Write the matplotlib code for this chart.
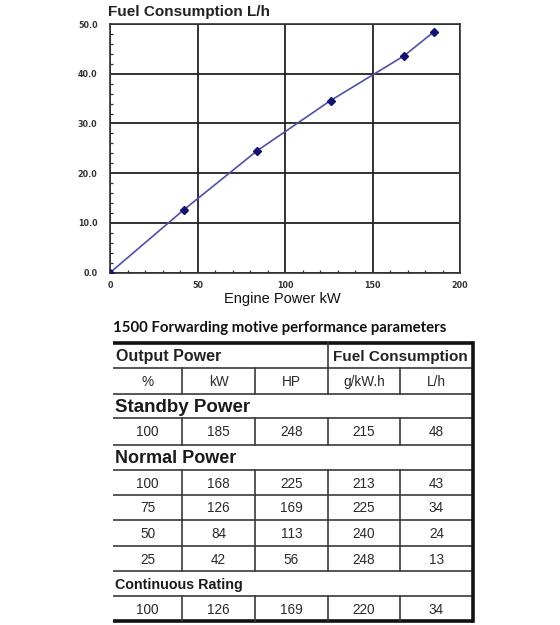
import matplotlib.pyplot as plt
from matplotlib.ticker import MultipleLocator, FormatStrFormatter

# fuel curve
power_kw = [0, 42, 84, 126, 168, 185]
fuel_lh = [0, 12.6, 24.5, 34.6, 43.6, 48.4]

# table contents
table_title = "1500 Forwarding motive performance parameters"
group_labels = ["Output Power", "Fuel Consumption"]
col_labels = ["%", "kW", "HP", "g/kW.h", "L/h"]
standby_rows = [[100, 185, 248, 215, 48]]
normal_rows = [[100, 168, 225, 213, 43],
               [75, 126, 169, 225, 34],
               [50, 84, 113, 240, 24],
               [25, 42, 56, 248, 13]]
continuous_rows = [[100, 126, 169, 220, 34]]

W, H = 560, 625
fig = plt.figure(figsize=(W / 100, H / 100), dpi=100)
fig.patch.set_facecolor("white")

# ---- chart ----
ax = fig.add_axes([110 / W, 1 - 272.7 / H, 350 / W, 248.7 / H])
ax.plot(power_kw, fuel_lh, color="#5050a8", lw=1.2, zorder=3,
        marker="D", markersize=4.2, markerfacecolor="#121270", markeredgecolor="#121270")
ax.set_xlim(0, 200)
ax.set_ylim(0, 50)
ax.xaxis.set_major_locator(MultipleLocator(50))
ax.xaxis.set_minor_locator(MultipleLocator(10))
ax.yaxis.set_major_locator(MultipleLocator(10))
ax.yaxis.set_minor_locator(MultipleLocator(2))
ax.yaxis.set_major_formatter(FormatStrFormatter("%.1f"))
ax.grid(True, which="major", color="#222222", lw=1.3)
ax.tick_params(which="both", direction="in", color="#333333")
ax.tick_params(which="major", length=0, labelsize=5.8, labelcolor="#333333")
ax.tick_params(axis="y", which="major", pad=9)
ax.tick_params(axis="x", which="major", pad=6)
ax.tick_params(which="minor", length=2.5, width=0.9)
for lab in ax.get_xticklabels() + ax.get_yticklabels():
    lab.set_fontweight("bold")
for s in ax.spines.values():
    s.set_color("#333333")
    s.set_linewidth(1.2)
fig.text(108 / W, 1 - 12 / H, "Fuel Consumption L/h", fontsize=11, fontweight="bold",
         family="Liberation Sans", color="#222222", va="center", ha="left")
fig.text(282 / W, 1 - 299 / H, "Engine Power kW", fontsize=10.5,
         family="Liberation Sans", color="#111111", va="center", ha="center")

# ---- table (drawn in pixel coordinates) ----
tx = fig.add_axes([0, 0, 1, 1])
tx.set_xlim(0, W)
tx.set_ylim(H, 0)
tx.axis("off")

col_x = [113, 182, 255, 328, 400, 473]
row_y = [343, 368, 394, 418, 445, 470, 495, 520, 546, 571, 596, 621]
line_c = "#3a3a3a"

tx.text(113, 328, table_title, fontsize=10.8, fontweight="bold",
        family="Lato", va="center", ha="left", color="#111111")

# horizontal rules
for i, y in enumerate(row_y):
    lw = 2.6 if i in (0, len(row_y) - 1) else 1.2
    tx.plot([col_x[0], col_x[-1]], [y, y], color="#111111" if lw > 2 else line_c, lw=lw,
            solid_capstyle="butt")
# right border with shadow
tx.plot([col_x[-1], col_x[-1]], [row_y[0], row_y[-1]], color="#111111", lw=2.6)

sections = [("Standby Power", 13.5, standby_rows, 2),
            ("Normal Power", 13, normal_rows, 4),
            ("Continuous Rating", 10.3, continuous_rows, 9)]

# group header row
tx.plot([col_x[3], col_x[3]], [row_y[0], row_y[1]], color=line_c, lw=1.2)
tx.text(116, (row_y[0] + row_y[1]) / 2 + 1, group_labels[0], fontsize=11.5, fontweight="bold",
        family="Liberation Sans", va="center", ha="left", color="#222222")
tx.text((col_x[3] + col_x[5]) / 2, (row_y[0] + row_y[1]) / 2 + 1, group_labels[1], fontsize=11,
        fontweight="bold", family="Liberation Sans", va="center", ha="center", color="#222222")


def draw_row(r, values):
    y0, y1 = row_y[r], row_y[r + 1]
    for x in col_x[1:-1]:
        tx.plot([x, x], [y0, y1], color=line_c, lw=1.2)
    for j, v in enumerate(values):
        tx.text((col_x[j] + col_x[j + 1]) / 2, (y0 + y1) / 2 + 1, str(v), fontsize=9.8,
                family="Liberation Sans", va="center", ha="center", color="#2a2a2a")


draw_row(1, col_labels)
for name, fs, rows, r in sections:
    tx.text(115, (row_y[r] + row_y[r + 1]) / 2 + 1, name, fontsize=fs, fontweight="bold",
            family="Liberation Sans", va="center", ha="left", color="#1a1a1a")
    for k, vals in enumerate(rows):
        draw_row(r + 1 + k, vals)

fig.savefig("out.png", dpi=100, facecolor="white")
